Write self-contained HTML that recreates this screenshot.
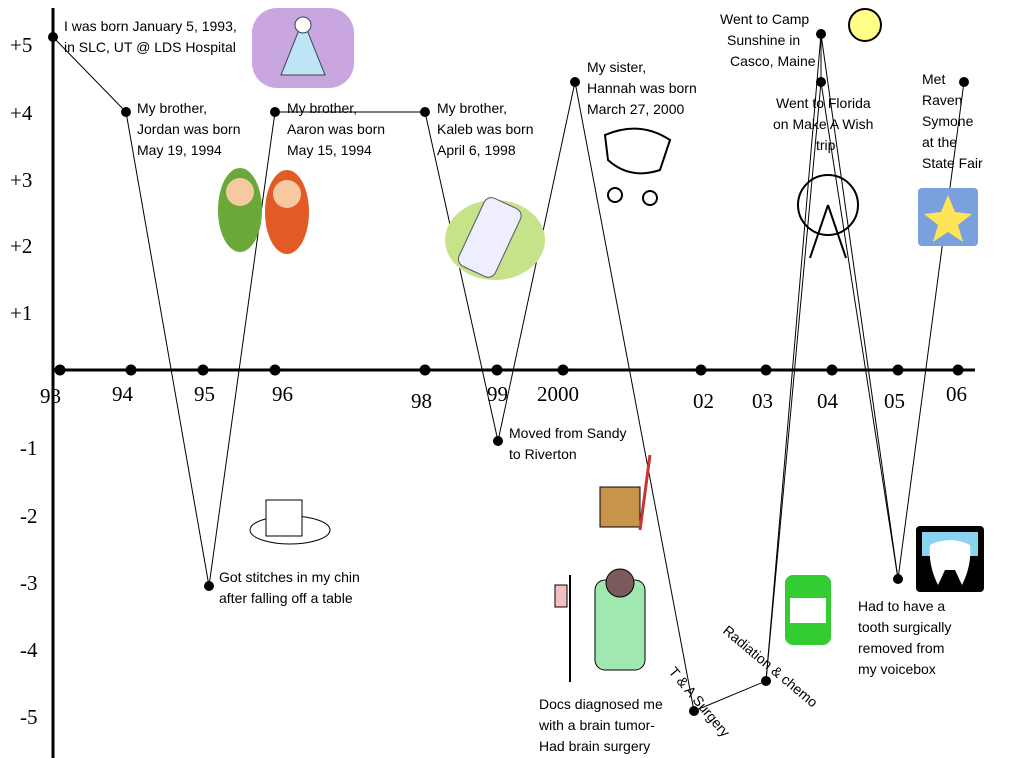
<!DOCTYPE html>
<html><head><meta charset="utf-8"><style>
html,body{margin:0;padding:0;background:#fff;}
svg{display:block;}
.t{font-family:"Liberation Sans",sans-serif;font-size:14px;fill:#000;}
.a{font-family:"Liberation Serif",serif;font-size:21px;fill:#000;}
</style></head><body>
<svg width="1019" height="758" viewBox="0 0 1019 758">
<rect width="1019" height="758" fill="#fff"/>
<!-- axes -->
<line x1="53" y1="8" x2="53" y2="758" stroke="#000" stroke-width="3"/>
<line x1="53" y1="370" x2="975" y2="370" stroke="#000" stroke-width="3"/>
<g fill="#000">
<circle cx="60" cy="370" r="5.5"/><circle cx="131" cy="370" r="5.5"/><circle cx="203" cy="370" r="5.5"/><circle cx="275" cy="370" r="5.5"/><circle cx="425" cy="370" r="5.5"/><circle cx="497" cy="370" r="5.5"/><circle cx="563" cy="370" r="5.5"/><circle cx="701" cy="370" r="5.5"/><circle cx="766" cy="370" r="5.5"/><circle cx="832" cy="370" r="5.5"/><circle cx="898" cy="370" r="5.5"/><circle cx="958" cy="370" r="5.5"/>
</g>
<g class="a">
<text x="40" y="403">93</text><text x="112" y="401">94</text><text x="194" y="401">95</text><text x="272" y="401">96</text><text x="411" y="408">98</text><text x="487" y="401">99</text><text x="537" y="401">2000</text><text x="693" y="408">02</text><text x="752" y="408">03</text><text x="817" y="408">04</text><text x="884" y="408">05</text><text x="946" y="401">06</text>
<text x="10" y="52">+5</text><text x="10" y="120">+4</text><text x="10" y="187">+3</text><text x="10" y="253">+2</text><text x="10" y="320">+1</text>
<text x="20" y="455">-1</text><text x="20" y="523">-2</text><text x="20" y="590">-3</text><text x="20" y="657">-4</text><text x="20" y="724">-5</text>
</g>
<!-- data line -->
<polyline fill="none" stroke="#000" stroke-width="1" points="53,37 126,112 209,586 275,112 425,112 498,441 575,82 694,711 766,681 821,34 821,82 898,579 964,82"/>
<line x1="766" y1="681" x2="821" y2="82" stroke="#000" stroke-width="1"/>
<line x1="821" y1="34" x2="898" y2="579" stroke="#000" stroke-width="1"/>
<g fill="#000">
<circle cx="53" cy="37" r="5"/><circle cx="126" cy="112" r="5"/><circle cx="209" cy="586" r="5"/><circle cx="275" cy="112" r="5"/><circle cx="425" cy="112" r="5"/><circle cx="498" cy="441" r="5"/><circle cx="575" cy="82" r="5"/><circle cx="694" cy="711" r="5"/><circle cx="766" cy="681" r="5"/><circle cx="821" cy="34" r="5"/><circle cx="821" cy="82" r="5"/><circle cx="898" cy="579" r="5"/><circle cx="964" cy="82" r="5"/>
</g>
<!-- labels -->
<g class="t">
<text x="64" y="31">I was born January 5, 1993,</text><text x="64" y="52">in SLC, UT @ LDS Hospital</text>
<text x="137" y="113">My brother,</text><text x="137" y="134">Jordan was born</text><text x="137" y="155">May 19, 1994</text>
<text x="287" y="113">My brother,</text><text x="287" y="134">Aaron was born</text><text x="287" y="155">May 15, 1994</text>
<text x="437" y="113">My brother,</text><text x="437" y="134">Kaleb was born</text><text x="437" y="155">April 6, 1998</text>
<text x="587" y="72">My sister,</text><text x="587" y="93">Hannah was born</text><text x="587" y="114">March 27, 2000</text>
<text x="720" y="24">Went to Camp</text><text x="727" y="45">Sunshine in</text><text x="730" y="66">Casco, Maine</text>
<text x="776" y="108">Went to Florida</text><text x="773" y="129">on Make A Wish</text><text x="816" y="150">trip</text>
<text x="922" y="84">Met</text><text x="922" y="105">Raven</text><text x="922" y="126">Symone</text><text x="922" y="147">at the</text><text x="922" y="168">State Fair</text>
<text x="509" y="438">Moved from Sandy</text><text x="509" y="459">to Riverton</text>
<text x="219" y="582">Got stitches in my chin</text><text x="219" y="603">after falling off a table</text>
<text x="539" y="709">Docs diagnosed me</text><text x="539" y="730">with a brain tumor-</text><text x="539" y="751">Had brain surgery</text>
<text x="858" y="611">Had to have a</text><text x="858" y="632">tooth surgically</text><text x="858" y="653">removed from</text><text x="858" y="674">my voicebox</text>
<text transform="translate(668,672) rotate(50)">T &amp; A Surgery</text>
<text transform="translate(722,632) rotate(40)">Radiation &amp; chemo</text>
</g>
<!-- clipart approximations -->
<rect x="252" y="8" width="102" height="80" rx="25" fill="#c9a6e0"/>
<path d="M303 20 L325 75 L281 75 Z" fill="#bfe4f5" stroke="#345" />
<circle cx="303" cy="25" r="8" fill="#fff" stroke="#345"/>
<ellipse cx="240" cy="210" rx="22" ry="42" fill="#6aa83a"/>
<circle cx="240" cy="192" r="14" fill="#f7c9a0"/>
<ellipse cx="287" cy="212" rx="22" ry="42" fill="#e25a25"/>
<circle cx="287" cy="194" r="14" fill="#f7c9a0"/>
<ellipse cx="495" cy="240" rx="50" ry="40" fill="#c6e38a"/>
<rect x="470" y="200" width="40" height="75" rx="8" fill="#eef" stroke="#556" transform="rotate(25 490 237)"/>
<ellipse cx="290" cy="530" rx="40" ry="14" fill="none" stroke="#000"/>
<rect x="266" y="500" width="36" height="36" fill="#fff" stroke="#000"/>
<g fill="none" stroke="#000" stroke-width="2"><path d="M605 135 Q640 120 670 140 L660 170 Q630 180 608 160 Z"/><circle cx="615" cy="195" r="7"/><circle cx="650" cy="198" r="7"/></g>
<rect x="600" y="487" width="40" height="40" fill="#c8944a" stroke="#000"/>
<line x1="650" y1="455" x2="640" y2="530" stroke="#c33" stroke-width="3"/>
<rect x="595" y="580" width="50" height="90" rx="10" fill="#9fe8b0" stroke="#000"/>
<circle cx="620" cy="583" r="14" fill="#7a5a5a" stroke="#000"/>
<line x1="570" y1="575" x2="570" y2="682" stroke="#000" stroke-width="2"/>
<rect x="555" y="585" width="12" height="22" fill="#f2c0c0" stroke="#000"/>
<rect x="785" y="575" width="46" height="70" rx="8" fill="#3c3" />
<rect x="790" y="598" width="36" height="25" fill="#fff"/>
<circle cx="865" cy="25" r="16" fill="#ff8"/>
<g stroke="#000" stroke-width="2" fill="none"><circle cx="865" cy="25" r="16"/><circle cx="828" cy="205" r="30"/><line x1="810" y1="258" x2="828" y2="205"/><line x1="846" y1="258" x2="828" y2="205"/></g>
<rect x="918" y="188" width="60" height="58" rx="4" fill="#7aa0dd"/>
<path d="M948 195 L955 212 L972 214 L958 225 L963 242 L948 232 L933 242 L938 225 L924 214 L941 212 Z" fill="#ffe45a"/>
<rect x="916" y="526" width="68" height="66" rx="4" fill="#000"/>
<rect x="922" y="532" width="56" height="24" fill="#8ad3f0"/>
<path d="M930 545 Q950 535 970 545 Q972 565 962 585 L955 570 L945 570 L938 585 Q928 565 930 545Z" fill="#fff"/>
</svg>
</body></html>
